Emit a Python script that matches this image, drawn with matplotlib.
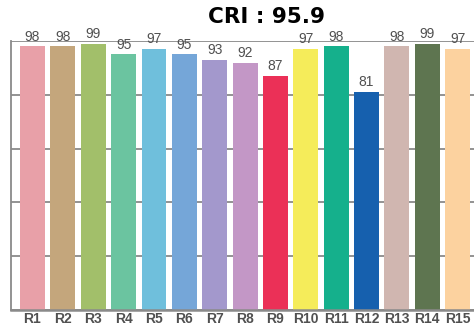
import numpy as np
import matplotlib.pyplot as plt

labels = ["R1", "R2", "R3", "R4", "R5", "R6", "R7", "R8",
          "R9", "R10", "R11", "R12", "R13", "R14", "R15"]
values = [98, 98, 99, 95, 97, 95, 93, 92, 87, 97, 98, 81, 98, 99, 97]
colors = ["#E8A0A8", "#C4A67C", "#A2BF6A", "#6BC4A0", "#6FBFDC",
          "#75A6D8", "#A398CC", "#C397C6", "#EB3057", "#F5EC5A",
          "#15B08C", "#1660AE", "#D0B6B0", "#5E7550", "#FCD29F"]
cri = 95.9

fig = plt.figure(figsize=(4.74, 3.29), dpi=100)
ax = fig.add_axes([11 / 474, 19 / 329, 463 / 474, 269 / 329])

x = np.arange(len(values))
ax.bar(x, values, width=0.82, color=colors, zorder=2)

# value labels above each bar
for xi, v in zip(x, values):
    ax.text(xi, v + 1.0, str(v), ha="center", va="bottom",
            fontsize=10, color="#505050", family="Liberation Sans")

ax.set_xlim(-0.708, 14.54)
ax.set_ylim(0, 100)
ax.set_yticks(np.arange(0, 101, 20))
ax.yaxis.grid(True, color="#8a8a8a", linewidth=1.3, zorder=0)
ax.tick_params(axis="y", length=0, labelleft=False)
ax.tick_params(axis="x", length=0, pad=1.5)
ax.set_xticks(x)
ax.set_xticklabels(labels, fontsize=10, fontweight="bold",
                   color="#505050", family="Liberation Sans")

for side in ["top", "right"]:
    ax.spines[side].set_visible(False)
ax.spines["left"].set_color("#8a8a8a")
ax.spines["left"].set_linewidth(1.3)
ax.spines["bottom"].set_color("#8a8a8a")
ax.spines["bottom"].set_linewidth(1.8)

fig.text(266 / 474, 1 - 17 / 329, "CRI : %.1f" % cri, ha="center", va="center",
         fontsize=15.5, fontweight="bold", color="black")

fig.savefig("out.png", dpi=100)
